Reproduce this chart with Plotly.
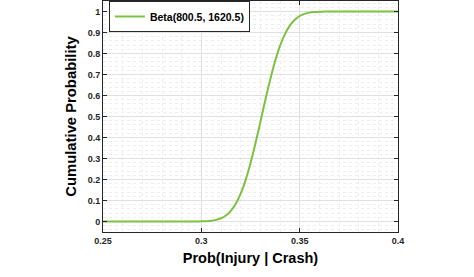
import plotly.graph_objects as go

# CDF of Beta(800.5, 1620.5)
x_vals = [0.25, 0.28, 0.29, 0.295, 0.2975, 0.30, 0.3025, 0.305, 0.3075, 0.31, 0.3125, 0.315,
          0.3175, 0.32, 0.3225, 0.325, 0.3275, 0.33, 0.3325, 0.335, 0.3375, 0.34, 0.3425,
          0.345, 0.3475, 0.35, 0.3525, 0.355, 0.3575, 0.36, 0.3625, 0.365, 0.37, 0.38, 0.40]
cdf_vals = [0.0, 0.0, 0.0, 0.0001, 0.0003, 0.0007, 0.0016, 0.0036, 0.0077, 0.0154, 0.0288, 0.0508,
            0.0846, 0.1326, 0.197, 0.2773, 0.371, 0.473, 0.577, 0.675, 0.763, 0.836, 0.8925,
            0.933, 0.961, 0.9785, 0.9889, 0.9946, 0.9975, 0.9989, 0.9996, 0.9998, 1.0, 1.0, 1.0]
series_name = "Beta(800.5, 1620.5)"
x_ticks = [0.25, 0.3, 0.35, 0.4]
x_tick_text = ["0.25", "0.3", "0.35", "0.4"]
y_ticks = [0, 0.1, 0.2, 0.3, 0.4, 0.5, 0.6, 0.7, 0.8, 0.9, 1]
y_tick_text = ["0", "0.1", "0.2", "0.3", "0.4", "0.5", "0.6", "0.7", "0.8", "0.9", "1"]

FONT = "Liberation Sans"
AX = "#262626"

fig = go.Figure()
fig.add_trace(go.Scatter(x=x_vals, y=cdf_vals, mode="lines", name=series_name,
                         line=dict(color="#7cc242", width=2, shape="spline", smoothing=0.6)))

axis_common = dict(showline=True, linecolor=AX, linewidth=1, mirror="allticks",
                   ticks="inside", ticklen=4, tickcolor=AX,
                   showgrid=True, gridcolor="#e0e0e0", gridwidth=1, zeroline=False,
                   tickfont=dict(family=FONT, size=9, color=AX, weight="bold"))

fig.update_xaxes(range=[0.25, 0.4], tickvals=x_ticks, ticktext=x_tick_text,
                 title=dict(text="<b>Prob(Injury | Crash)</b>", font=dict(family=FONT, size=14.5, color="#000"), standoff=8),
                 minor=dict(dtick=0.01, showgrid=True, gridcolor="#eeeeee", griddash="dot", ticks=""),
                 **axis_common)
fig.update_yaxes(range=[-0.05, 1.05], tickvals=y_ticks, ticktext=y_tick_text,
                 title=dict(text="<b>Cumulative Probability</b>", font=dict(family=FONT, size=14.8, color="#000"), standoff=7),
                 minor=dict(dtick=0.02, showgrid=True, gridcolor="#eeeeee", griddash="dot", ticks=""),
                 **axis_common)

fig.update_layout(
    width=474, height=277,
    margin=dict(l=103, r=76, t=1, b=45),
    paper_bgcolor="white", plot_bgcolor="white",
    showlegend=True,
    legend=dict(x=0.02, y=1.0, xanchor="left", yanchor="top",
                bgcolor="white", bordercolor=AX, borderwidth=1,
                font=dict(family=FONT, size=10.5, color="#000", weight="bold"),
                itemwidth=30, tracegroupgap=0),
)

fig.write_html("out.html")
